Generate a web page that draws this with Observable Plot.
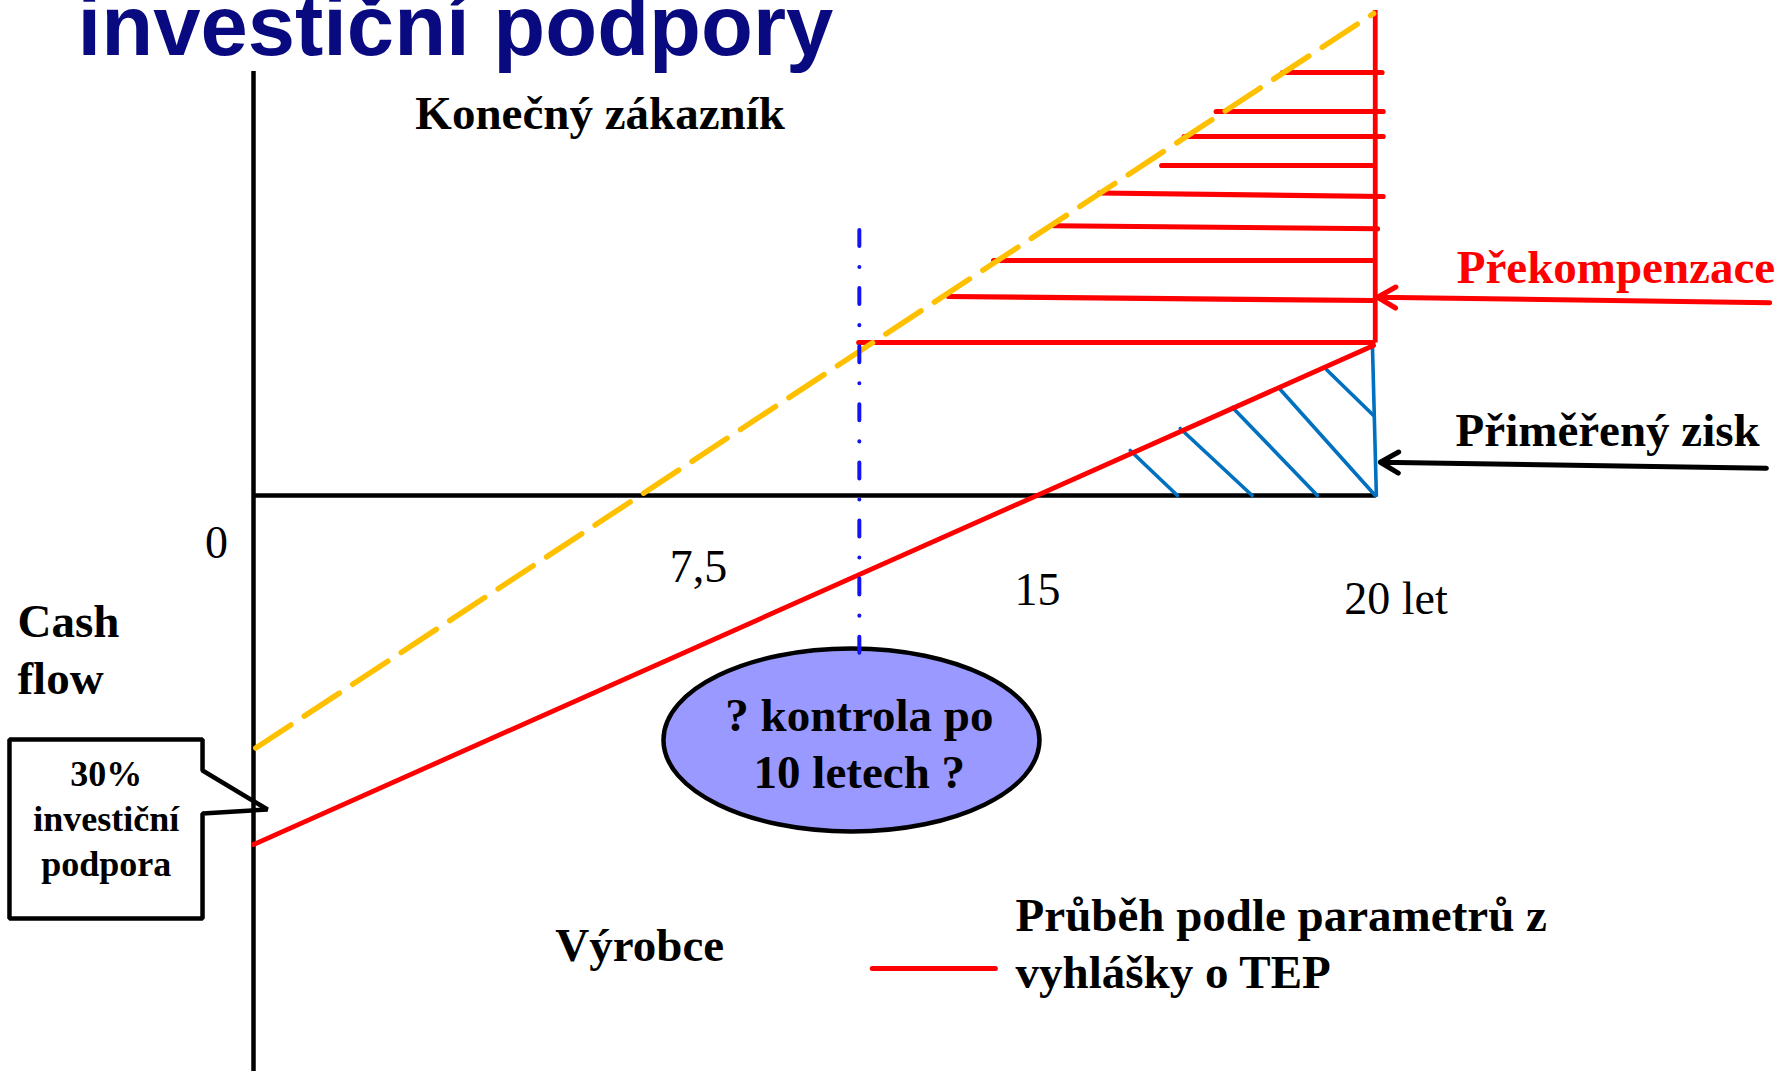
<!DOCTYPE html>
<html><head><meta charset="utf-8">
<script src="https://cdn.jsdelivr.net/npm/d3@7"></script>
<script src="https://cdn.jsdelivr.net/npm/@observablehq/plot@0.6"></script>
<style>html,body{margin:0;padding:0;background:#fff;overflow:hidden}</style>
</head><body><div id="chart"></div>
<script>
// ---- data (years on x, relative cash flow on y) ----
const titleText = "investiční podpory";

// producer cash flow (red, per TEP decree parameters)
const producerYears = [0, 19.93];
const producerCash = [-13.96, 6.0];
// final customer line (yellow dashed)
const customerYears = [0.04, 19.93];
const customerCash = [-10.1, 19.28];

// over-compensation hatch (red horizontal strokes)
const overStart = [18.31, 17.13, 16.56, 16.16, 15.05, 14.25, 13.17, 12.37, 10.77];
const overEnd   = [20.08, 20.1, 20.1, 19.92, 20.1, 20.0, 19.92, 19.92, 19.92];
const overCash1 = [16.92, 15.36, 14.36, 13.2, 12.1, 10.79, 9.4, 7.96, 6.12];
const overCash2 = [16.92, 15.36, 14.36, 13.2, 11.96, 10.67, 9.4, 7.8, 6.12];
const overVertical = {year: 19.96, top: 19.4, bottom: 6.1};

// fair profit hatch (blue strokes)
const fairX1 = [15.6, 16.49, 17.42, 18.27, 19.09, 19.91];
const fairY1 = [1.8, 2.68, 3.52, 4.24, 5.04, 6.0];
const fairX2 = [16.44, 17.77, 18.93, 19.96, 19.93, 19.98];
const fairY2 = [0, 0, 0, 0, 3.2, 0];

// check after 10 years
const checkYear = 10.78;
const checkTop = 10.6, checkBottom = -6.68;
const bubbleCenter = {year: 10.64, cash: -9.78};

// axis tick labels
const tickLabels = ["0", "7,5", "15", "20 let"];
const tickX = [-0.66, 7.92, 13.95, 19.41];
const tickY = [-2.48, -3.44, -4.36, -4.72];
const tickAnchor = ["middle", "middle", "middle", "start"];

// annotation arrows
const arrowTail = [[26.98, 7.71], [26.92, 1.09]];
const arrowHead = [[20.0, 7.93], [20.05, 1.33]];
const arrowColor = ["#ff0000", "#000000"];

// callout box outline for "30% investiční podpora"
const calloutX = [-4.342, -0.907, -0.907, 0.25, -0.907, -0.907, -4.342];
const calloutY = [-9.76, -9.76, -11.0, -12.56, -12.72, -16.92, -16.92];

// text labels
const labelText = ["Konečný zákazník", "Překompenzace", "Přiměřený zisk", "Cash\nflow",
  "30%\ninvestiční\npodpora", "? kontrola po\n10 letech ?", "Výrobce",
  "Průběh podle parametrů z\nvyhlášky o TEP"];
const labelX = [2.88, 21.41, 21.39, -4.2, -2.62, 10.78, 5.37, 13.56];
const labelY = [14.68, 8.52, 2.0, -7.92, -15.2, -11.68, -18.6, -19.68];
const labelAnchor = ["start", "start", "start", "start", "middle", "middle", "start", "start"];
const labelColor = ["#000", "#ff0000", "#000", "#000", "#000", "#000", "#000", "#000"];
const labelSize = [47, 47, 47, 47, 36, 47, 47, 47];
const labelLH = [1.2, 1.2, 1.2, 1.21, 1.25, 1.21, 1.2, 1.2];

const legendX = [11.01, 13.2];
const legendY = -18.92;

// ---- tables built from arrays ----
const producer = producerYears.map((x, i) => ({x, y: producerCash[i]}));
const customer = customerYears.map((x, i) => ({x, y: customerCash[i]}));
const over = overStart.map((x1, i) => ({x1, x2: overEnd[i], y1: overCash1[i], y2: overCash2[i]}));
const fair = fairX1.map((x1, i) => ({x1, y1: fairY1[i], x2: fairX2[i], y2: fairY2[i]}));
const ticks = tickLabels.map((t, i) => ({t, x: tickX[i], y: tickY[i], a: tickAnchor[i]}));
const arrows = arrowTail.map((t, i) => ({x1: t[0], y1: t[1], x2: arrowHead[i][0], y2: arrowHead[i][1], c: arrowColor[i]}));
const callout = calloutX.map((x, i) => ({x, y: calloutY[i]}));
const labels = labelText.map((t, i) => ({t, x: labelX[i], y: labelY[i], a: labelAnchor[i], c: labelColor[i], s: labelSize[i], lh: labelLH[i]}));

const ellipse = {
  draw(ctx) {
    const rx = 188, ry = 91.5, k = 0.5523;
    ctx.moveTo(rx, 0);
    ctx.bezierCurveTo(rx, ry * k, rx * k, ry, 0, ry);
    ctx.bezierCurveTo(-rx * k, ry, -rx, ry * k, -rx, 0);
    ctx.bezierCurveTo(-rx, -ry * k, -rx * k, -ry, 0, -ry);
    ctx.bezierCurveTo(rx * k, -ry, rx, -ry * k, rx, 0);
    ctx.closePath();
  }
};

const serif = "'Liberation Serif', 'Times New Roman', serif";
const labelMarks = labels.map(d => Plot.text([d], {
  x: "x", y: "y", text: "t", textAnchor: d.a, lineAnchor: "bottom",
  fill: d.c, fontSize: d.s, fontWeight: "bold", fontFamily: serif, lineHeight: d.lh
}));
const tickMarks = ticks.map(d => Plot.text([d], {
  x: "x", y: "y", text: "t", textAnchor: d.a, lineAnchor: "bottom",
  fill: "#000", fontSize: 46, fontFamily: serif
}));

const chart = Plot.plot({
  width: 1781, height: 1071, margin: 0,
  x: {domain: [0, 20], range: [253, 1377], axis: null},
  y: {domain: [0, 10], range: [495, 245], axis: null},
  style: {background: "white", overflow: "visible"},
  marks: [
    // title
    Plot.text([titleText], {x: -3.13, y: 17.64, text: d => d, textAnchor: "start", lineAnchor: "bottom",
      fontFamily: "'Liberation Sans', Arial, sans-serif", fontWeight: "bold", fontSize: 85, fill: "#0a0a80"}),
    // axes
    Plot.ruleX([0], {y1: 16.96, y2: -23.2, stroke: "#000", strokeWidth: 4.5}),
    Plot.ruleY([0], {x1: 0, x2: 19.98, stroke: "#000", strokeWidth: 4.5}),
    // over-compensation hatching
    Plot.link(over, {x1: "x1", y1: "y1", x2: "x2", y2: "y2", stroke: "#ff0000", strokeWidth: 5.2, strokeLinecap: "round"}),
    Plot.ruleX([overVertical], {x: "year", y1: "top", y2: "bottom", stroke: "#ff0000", strokeWidth: 4.8}),
    // fair profit hatching
    Plot.link(fair, {x1: "x1", y1: "y1", x2: "x2", y2: "y2", stroke: "#0070c0", strokeWidth: 3.6, strokeLinecap: "round"}),
    // customer line
    Plot.line(customer, {x: "x", y: "y", stroke: "#ffc000", strokeWidth: 5.5, strokeDasharray: "42,16"}),
    // producer line
    Plot.line(producer, {x: "x", y: "y", stroke: "#ff0000", strokeWidth: 4.8}),
    // bubble
    Plot.dot([bubbleCenter], {x: "year", y: "cash", symbol: ellipse, fill: "#9999ff", stroke: "#000", strokeWidth: 4.5}),
    // check line
    Plot.ruleX([checkYear], {y1: checkTop, y2: checkBottom, stroke: "#1414f0", strokeWidth: 4, strokeLinecap: "round", strokeDasharray: "16,21,0.1,21"}),
    // arrows
    Plot.arrow(arrows, {x1: "x1", y1: "y1", x2: "x2", y2: "y2", stroke: "c", strokeWidth: 5, headLength: 6.3, headAngle: 60}),
    // callout
    Plot.line(callout, {x: "x", y: "y", curve: "linear-closed", stroke: "#000", strokeWidth: 4.5, strokeLinejoin: "miter"}),
    // legend line
    Plot.link([{x1: legendX[0], x2: legendX[1], y: legendY}], {x1: "x1", x2: "x2", y1: "y", y2: "y", stroke: "#ff0000", strokeWidth: 5, strokeLinecap: "round"}),
    ...tickMarks,
    ...labelMarks
  ]
});
document.getElementById("chart").appendChild(chart);
</script>
</body></html>
